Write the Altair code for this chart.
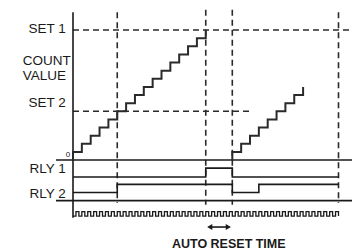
import altair as alt
import pandas as pd

# ---- values (time in count pulses, level in counts) ----
event_times = [5, 15, 18, 30]          # dashed vertical markers
set_names = ["SET 1", "SET 2"]
set_values = [16, 6]
set_ends = [31.6, 20]                   # how far each set-point dashed line runs

run1_t = [0, 0, 1, 2, 3, 4, 5, 6, 7, 8, 9, 10, 11, 12, 13, 14, 15]
run1_v = [0, 1, 2, 3, 4, 5, 6, 7, 8, 9, 10, 11, 12, 13, 14, 15, 16]
run2_t = [18, 18, 19, 20, 21, 22, 23, 24, 25, 26]
run2_v = [0, 1, 2, 3, 4, 5, 6, 7, 8, 9]

rly1_t = [0, 15, 18, 30]
rly1_s = [0, 1, 0, 0]
rly2_t = [0, 5, 18, 21, 30]
rly2_s = [0, 1, 0, 1, 1]

clock_pulses = 45
clock_end = 30

# ---- layout (in the same scale units) ----
RLY1_LO, RLY1_HI = -2.1, -1.0
RLY2_LO, RLY2_HI = -4.0, -3.0
BOTTOM = -5.0
CLK_LO, CLK_HI = -6.9, -6.35

xs = alt.Scale(domain=[-65 / 8.85, (344 - 65) / 8.85], nice=False, zero=False)
ys = alt.Scale(domain=[(152 - 243) / 8.125, 152 / 8.125], nice=False, zero=False)

INK = "#1a1a1a"
FONT = "Liberation Sans"


def X(f="t"):
    return alt.X(f"{f}:Q", scale=xs, axis=None)


def Y(f="v"):
    return alt.Y(f"{f}:Q", scale=ys, axis=None)


# staircases
stairs = pd.DataFrame(
    {"t": run1_t + run2_t, "v": run1_v + run2_v,
     "run": ["a"] * len(run1_t) + ["b"] * len(run2_t),
     "o": list(range(len(run1_t))) + list(range(len(run2_t)))}
)
stair_layer = alt.Chart(stairs).mark_line(
    interpolate="step-after", color="#2a2a2a", strokeWidth=2.0
).encode(x=X(), y=Y(), detail="run:N", order="o:Q")

# relay traces
rly = pd.DataFrame(
    {"t": rly1_t + rly2_t,
     "v": [RLY1_LO + s * (RLY1_HI - RLY1_LO) for s in rly1_s]
     + [RLY2_LO + s * (RLY2_HI - RLY2_LO) for s in rly2_s],
     "r": ["1"] * len(rly1_t) + ["2"] * len(rly2_t),
     "o": list(range(len(rly1_t))) + list(range(len(rly2_t)))}
)
rly_layer = alt.Chart(rly).mark_line(
    interpolate="step-after", color=INK, strokeWidth=1.6
).encode(x=X(), y=Y(), detail="r:N", order="o:Q")

# clock
ct, cv = [], []
half = clock_end / clock_pulses / 2
for i in range(clock_pulses):
    t0 = i * 2 * half
    ct += [t0, t0 + half]
    cv += [CLK_LO, CLK_HI]
ct.append(clock_end)
cv.append(CLK_LO)
clock = pd.DataFrame({"t": ct, "v": cv, "o": list(range(len(ct)))})
clock_layer = alt.Chart(clock).mark_line(
    interpolate="step-after", color=INK, strokeWidth=1.3
).encode(x=X(), y=Y(), order="o:Q")

# vertical axis
axis_df = pd.DataFrame({"t": [0], "y1": [18.2], "y2": [-7.1]})
axis_layer = alt.Chart(axis_df).mark_rule(color=INK, strokeWidth=1.6).encode(
    x=X(), y=Y("y1"), y2="y2:Q")

# dashed verticals
vdash = pd.DataFrame({"t": event_times, "y1": [18.2, 18.5, 18.5, 18.2],
                      "y2": [-5.3, -5.5, -5.5, -5.3]})
vdash_layer = alt.Chart(vdash).mark_rule(
    color="#2a2a2a", strokeWidth=1.6, strokeDash=[6, 4]).encode(
    x=X(), y=Y("y1"), y2="y2:Q")

# set-point dashed lines
hdash = pd.DataFrame({"t": [0, 0], "t2": set_ends, "v": set_values})
hdash_layer = alt.Chart(hdash).mark_rule(
    color="#2a2a2a", strokeWidth=1.6, strokeDash=[6, 4]).encode(
    x=X(), x2="t2:Q", y=Y())

# solid frame lines of relay area
hsolid = pd.DataFrame({"t": [-1.92, -1.92], "t2": [31.6, 31.6],
                       "v": [0, BOTTOM]})
hsolid_layer = alt.Chart(hsolid).mark_rule(color=INK, strokeWidth=1.6).encode(
    x=X(), x2="t2:Q", y=Y())

# labels
lab_r = pd.DataFrame({
    "t": [-0.82, -0.82, -0.82, -0.82],
    "v": [16.1, 7.0, -1.1, -4.2],
    "txt": ["SET 1", "SET 2", "RLY 1", "RLY 2"]})
lab_r_layer = alt.Chart(lab_r).mark_text(
    align="right", baseline="middle", font=FONT, fontSize=13.5, color=INK
).encode(x=X(), y=Y(), text="txt:N")

lab_l = pd.DataFrame({"t": [-5.68, -5.68], "v": [12.2, 10.35],
                      "txt": ["COUNT", "VALUE"]})
lab_l_layer = alt.Chart(lab_l).mark_text(
    align="left", baseline="middle", font=FONT, fontSize=13.5, color=INK
).encode(x=X(), y=Y(), text="txt:N")

zero = pd.DataFrame({"t": [-0.56], "v": [0.6], "txt": ["0"]})
zero_layer = alt.Chart(zero).mark_text(
    align="center", baseline="middle", font=FONT, fontSize=8, color=INK
).encode(x=X(), y=Y(), text="txt:N")

title = pd.DataFrame({"t": [17.6], "v": [-10.3], "txt": ["AUTO RESET TIME"]})
title_layer = alt.Chart(title).mark_text(
    align="center", baseline="middle", font=FONT, fontSize=12.5,
    fontWeight="bold", color=INK
).encode(x=X(), y=Y(), text="txt:N")

# auto reset arrow
arrow = pd.DataFrame({"t": [15.35], "t2": [17.65], "v": [-8.25]})
arrow_layer = alt.Chart(arrow).mark_rule(color=INK, strokeWidth=1.6).encode(
    x=X(), x2="t2:Q", y=Y())
heads = pd.DataFrame({"t": [15.45, 17.55], "v": [-8.25, -8.25],
                      "s": ["triangle-left", "triangle-right"]})
heads_layer = alt.Chart(heads).mark_point(
    filled=True, color=INK, size=35, opacity=1).encode(
    x=X(), y=Y(), shape=alt.Shape("s:N", scale=None))

chart = alt.layer(
    hdash_layer, vdash_layer, hsolid_layer, axis_layer,
    stair_layer, rly_layer, clock_layer,
    lab_r_layer, lab_l_layer, zero_layer, title_layer,
    arrow_layer, heads_layer,
).properties(
    width=344, height=243,
    autosize=alt.AutoSizeParams(type="none"),
    padding=0,
).configure_view(stroke=None)

chart.save("out.html", embed_options={"renderer": "svg", "actions": False})
